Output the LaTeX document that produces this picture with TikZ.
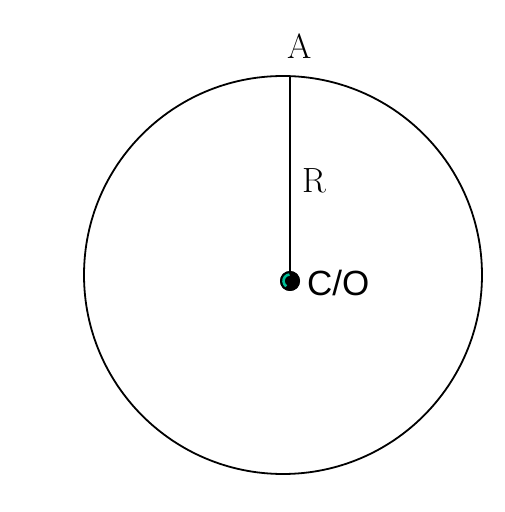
\documentclass[tikz,border=0pt]{standalone}
\usepackage{fontspec}
\newfontfamily\arialfont{Liberation Sans}
\definecolor{tealdot}{RGB}{0,190,150}
\begin{document}
\begin{tikzpicture}[x=1pt,y=1pt,
  lbl/.style={inner sep=0pt,font=\fontsize{35}{40}\selectfont},
  slbl/.style={inner sep=0pt,font=\arialfont\fontsize{35}{40}\selectfont}]
\useasboundingbox (0,0) rectangle (504,512);
\fill[white] (0,0) rectangle (504,512);
\node[circle,draw,line width=1.8pt,minimum size=398pt,inner sep=0pt] (circ) at (283,237) {};
\coordinate (top) at (290,435);
\node[circle,fill=black,minimum size=20pt,inner sep=0pt] (dot) at (290,231) {};
\draw[line width=2.6pt] (top) -- (dot.center);
\fill[black] (dot.center) circle (10pt);
\draw[tealdot,line width=2.6pt] ([shift={(95:6.5pt)}]dot.center) arc (95:235:6.5pt);
\node[lbl] (A) at (300,466) {A};
\node[lbl] (R) at (314,331) {R};
\node[slbl,anchor=west] (CO) at (307,229) {C/O};
\end{tikzpicture}
\end{document}
